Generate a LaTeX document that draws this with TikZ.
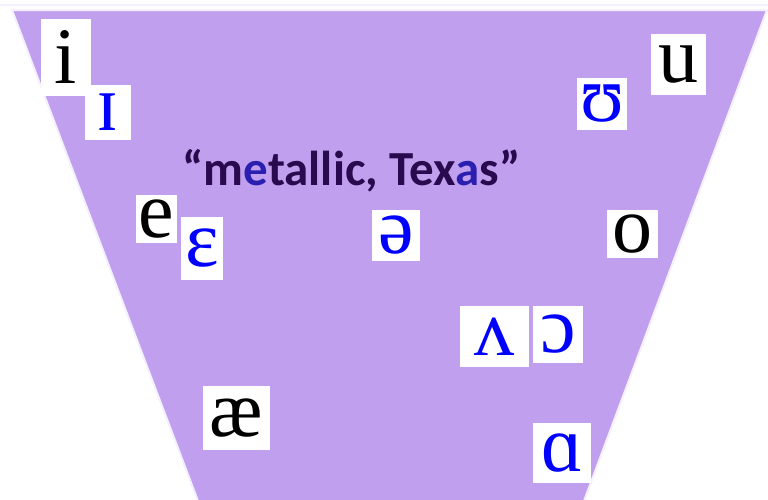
\documentclass[tikz,border=0pt]{standalone}
\usepackage{fontspec}
\setmainfont{Liberation Serif}
\newfontfamily\titlefont{Carlito}
\definecolor{trap}{HTML}{C19FEF}
\definecolor{trapedge}{HTML}{F4F0FF}
\definecolor{titledark}{HTML}{2A0A4E}
\definecolor{titleblue}{HTML}{2A1FB0}
\definecolor{ipablue}{HTML}{0000FF}
\tikzset{
  vbox/.style={fill=white, inner sep=0pt, font=\fontsize{80}{80}\selectfont},
  blk/.style={vbox, text=black},
  blu/.style={vbox, text=ipablue},
}
\begin{document}
\begin{tikzpicture}[x=1pt,y=-1pt]
\useasboundingbox (0,0) rectangle (768,499);
\fill[white] (0,0) rectangle (768,499);
\draw[trapedge, line width=2pt] (0,5) -- (768,5);
\fill[trap, draw=trapedge, line width=2pt] (12,10) -- (767,10) -- (584,501) -- (198,501) -- cycle;
\node[blk, minimum width=50pt, minimum height=77pt] (i) at (66,57.5) {i};
\node[blu, minimum width=46pt, minimum height=55pt] (ih) at (108,112.5) {ɪ};
\node[blu, minimum width=50pt, minimum height=52pt] (uh) at (602,104) {ʊ};
\node[blk, minimum width=55pt, minimum height=61pt] (u) at (678.5,64.5) {u};
\node[blk, minimum width=41pt, minimum height=48pt] (e) at (156.5,219) {e};
\node[blu, minimum width=42pt, minimum height=63pt] (eh) at (202,248.5) {ɛ};
\node[blu, minimum width=48pt, minimum height=51pt] (schwa) at (396,235.5) {ə};
\node[blu, minimum width=69pt, minimum height=61pt] (wedge) at (494.5,336.5) {ʌ};
\node[blu, minimum width=50pt, minimum height=57pt] (oh) at (558,334.5) {ɔ};
\node[blk, minimum width=67pt, minimum height=64pt] (ae) at (236.5,418) {æ};
\node[blu, minimum width=58pt, minimum height=60pt] (ah) at (562,453) {ɑ};
\node[blk, minimum width=51pt, minimum height=48pt] (o) at (632.5,234) {o};
\node[anchor=base, inner sep=0pt, text=titledark, font=\titlefont\bfseries\fontsize{49}{49}\selectfont] (title) at (351.5,185)
  {“m\textcolor{titleblue}{e}tallic, Tex\textcolor{titleblue}{a}s”};
\end{tikzpicture}
\end{document}
